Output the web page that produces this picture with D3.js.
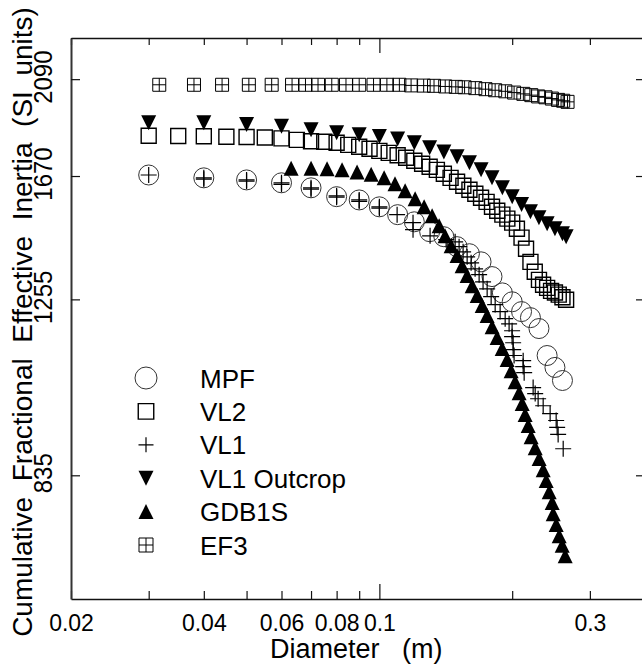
<!DOCTYPE html>
<html>
<head>
<meta charset="utf-8">
<script src="https://cdnjs.cloudflare.com/ajax/libs/d3/7.8.5/d3.min.js"></script>
<style>
  body { margin: 0; background: #fff; }
  svg { display: block; font-family: "Liberation Sans", Arial, Helvetica, sans-serif; }
</style>
</head>
<body>
<div id="chart"></div>
<script>
// diameter (m) vs cumulative fractional effective inertia (SI units)
var mpfDiam = [0.03,0.04,0.05,0.06,0.07,0.08,0.09,0.1,0.11,0.12,0.13,0.14,0.15,0.16,0.17,0.18,0.19,0.2,0.21,0.22,0.23,0.24,0.25,0.26];
var mpfVal  = [1674,1663,1655,1644,1625,1592,1580,1555,1527,1502,1468,1451,1418,1395,1369,1323,1274,1248,1220,1203,1173,1102,1072,1040];

var vl2Diam = [0.03,0.035,0.04,0.045,0.05,0.055,0.06,0.065,0.07,0.075,0.08,0.085,0.09,0.095,0.1,0.105,0.11,0.115,0.12,0.125,0.13,0.135,0.14,0.145,0.15,0.155,0.16,0.165,0.17,0.175,0.18,0.185,0.19,0.195,0.2,0.205,0.21,0.215,0.22,0.225,0.23,0.235,0.24,0.245,0.25,0.255,0.26,0.265];
var vl2Val  = [1833,1832,1831,1829,1828,1826,1822,1816,1810,1808,1804,1795,1787,1779,1770,1762,1752,1742,1730,1718,1706,1694,1679,1663,1648,1633,1618,1603,1588,1573,1555,1541,1527,1513,1499,1478,1448,1411,1369,1338,1313,1298,1289,1280,1275,1269,1261,1254];

var vl1Diam = [0.03,0.04,0.04,0.05,0.05,0.06,0.06,0.07,0.07,0.08,0.08,0.09,0.09,0.1,0.1,0.1097,0.1192,0.1192,0.1303,0.1417,0.1485,0.1516,0.1548,0.1581,0.1614,0.1648,0.1683,0.1718,0.1755,0.1792,0.183,0.1878,0.1928,0.1968,0.1999,0.1999,0.201,0.201,0.202,0.2118,0.2118,0.2129,0.2231,0.2255,0.229,0.2351,0.2438,0.2516,0.2529,0.2542,0.261];
var vl1Val  = [1674,1663,1658,1655,1650,1644,1638,1625,1620,1595,1590,1580,1575,1555,1550,1527,1499,1475,1454,1441,1434,1418,1401,1385,1366,1347,1329,1307,1286,1263,1240,1220,1200,1186,1167,1151,1135,1117,1102,1089,1074,1059,1023,1009,997,981,963,948,933,918,888];

var outDiam = [0.03,0.04,0.05,0.06,0.07,0.08,0.09,0.1,0.11,0.12,0.13,0.14,0.15,0.16,0.17,0.18,0.19,0.2,0.21,0.22,0.23,0.24,0.25,0.26,0.265];
var outVal  = [1889,1889,1882,1874,1859,1846,1837,1830,1820,1804,1783,1766,1746,1722,1694,1663,1625,1592,1563,1537,1516,1495,1478,1461,1451];

var gdbDiam = [0.0631,0.07,0.0761,0.0823,0.089,0.0958,0.1025,0.1085,0.1144,0.1205,0.1263,0.1317,0.1366,0.1409,0.1454,0.15,0.154,0.1581,0.1623,0.1666,0.171,0.1755,0.1801,0.1849,0.1898,0.1948,0.1989,0.2031,0.2074,0.2107,0.214,0.2174,0.2208,0.2255,0.2302,0.2351,0.2388,0.2426,0.2464,0.2477,0.2516,0.2556,0.2596,0.2637];
var gdbVal  = [1700,1700,1698,1694,1686,1677,1663,1640,1614,1584,1555,1523,1488,1454,1421,1389,1357,1326,1295,1266,1237,1209,1178,1149,1120,1092,1064,1037,1011,986,961,937,913,890,868,846,825,804,784,764,745,726,710,693];

var ef3Diam = [0.0317,0.038,0.044,0.0506,0.057,0.0634,0.068,0.0726,0.078,0.084,0.09,0.097,0.104,0.111,0.118,0.126,0.133,0.141,0.149,0.156,0.165,0.174,0.183,0.193,0.202,0.212,0.221,0.229,0.238,0.246,0.254,0.261,0.267];
var ef3Val  = [2063,2063,2063,2063,2063,2063,2063,2063,2063,2063,2063,2063,2063,2063,2060,2059,2058,2055,2053,2051,2047,2042,2037,2032,2026,2020,2014,2008,2004,1998,1992,1988,1983];

var xTicks  = [0.02,0.03,0.04,0.05,0.06,0.07,0.08,0.09,0.1,0.2,0.3];
var xLabels = [0.02,0.04,0.06,0.08,0.1,0.3];
var yTicks  = [835,1255,1670,2090];
var seriesNames = ["MPF","VL2","VL1","VL1 Outcrop","GDB1S","EF3"];

var width = 642, height = 667;
var x = d3.scaleLog().domain([0.02, 0.4]).range([71, 645]);
var y = d3.scaleLog().domain([627, 2299]).range([599, 38]);

var svg = d3.select("#chart").append("svg")
  .attr("width", width)
  .attr("height", height);

// marker shapes (size = side squared)
var boxPlus = { draw: function(ctx, size) {
  var h = Math.sqrt(size) / 2;
  ctx.moveTo(-h, -h); ctx.lineTo(h, -h); ctx.lineTo(h, h); ctx.lineTo(-h, h); ctx.closePath();
  ctx.moveTo(-h, 0); ctx.lineTo(h, 0);
  ctx.moveTo(0, -h); ctx.lineTo(0, h);
}};
var plus = { draw: function(ctx, size) {
  var h = Math.sqrt(size) / 2;
  ctx.moveTo(-h, 0); ctx.lineTo(h, 0);
  ctx.moveTo(0, -h); ctx.lineTo(0, h);
}};
var triDown = { draw: function(ctx, size) {
  var h = Math.sqrt(size) / 2;
  ctx.moveTo(-h, -h); ctx.lineTo(h, -h); ctx.lineTo(0, h); ctx.closePath();
}};
var triUp = { draw: function(ctx, size) {
  var h = Math.sqrt(size) / 2;
  ctx.moveTo(0, -h); ctx.lineTo(h, h); ctx.lineTo(-h, h); ctx.closePath();
}};

var series = [
  {diam: mpfDiam, val: mpfVal, type: d3.symbolCircle, size: Math.PI * 100, legSize: Math.PI * 121, fill: "none", stroke: "#333", sw: 1},
  {diam: vl2Diam, val: vl2Val, type: d3.symbolSquare, size: 225, legSize: 240, fill: "none", stroke: "#000", sw: 1.4},
  {diam: vl1Diam, val: vl1Val, type: plus, size: 256, legSize: 225, fill: "none", stroke: "#000", sw: 1.2},
  {diam: outDiam, val: outVal, type: triDown, size: 225, legSize: 225, fill: "#000", stroke: "none", sw: 0},
  {diam: gdbDiam, val: gdbVal, type: triUp, size: 225, legSize: 225, fill: "#000", stroke: "none", sw: 0},
  {diam: ef3Diam, val: ef3Val, type: boxPlus, size: 169, legSize: 196, fill: "none", stroke: "#000", sw: 1}
];

// axes
var axisFont = '"Liberation Sans", Arial, Helvetica, sans-serif';

var gB = svg.append("g")
  .attr("transform", "translate(0,599)")
  .call(d3.axisBottom(x).tickValues(xTicks).tickSizeInner(-8).tickSizeOuter(0).tickPadding(16)
    .tickFormat(function(d) { return xLabels.indexOf(d) >= 0 ? String(d) : ""; }));
gB.selectAll(".tick line").filter(function(d) { return d === 0.1; }).attr("y2", -15);

var gT = svg.append("g")
  .attr("transform", "translate(0,38)")
  .call(d3.axisTop(x).tickValues(xTicks).tickSizeInner(-7).tickSizeOuter(0).tickFormat(""));
gT.selectAll(".tick line").filter(function(d) { return d === 0.1; }).attr("y2", 15);

var gL = svg.append("g")
  .attr("transform", "translate(71,0)")
  .call(d3.axisLeft(y).tickValues(yTicks).tickSizeInner(-9).tickSizeOuter(0).tickFormat(function(d) { return String(d); }));
gL.selectAll(".tick text")
  .attr("x", null).attr("dy", null)
  .attr("text-anchor", "middle")
  .attr("transform", "translate(-19,-2.5) scale(1.1,1) rotate(-90)");

var gR = svg.append("g")
  .attr("transform", "translate(645,0)")
  .call(d3.axisRight(y).tickValues(yTicks).tickSizeInner(-9).tickSizeOuter(0).tickFormat(""));

[gB, gT, gL, gR].forEach(function(g) {
  g.attr("font-family", axisFont).attr("font-size", 23);
  g.selectAll(".domain").attr("stroke", "#111").attr("stroke-width", 1.5);
  g.selectAll(".tick line").attr("stroke", "#111").attr("stroke-width", 1.2);
  g.selectAll(".tick text").attr("fill", "#000");
});
gL.attr("font-size", 24);
gL.select(".domain").attr("stroke", "#333").attr("stroke-width", 2);

// axis titles
svg.append("text")
  .attr("xml:space", "preserve")
  .style("white-space", "pre")
  .attr("transform", "translate(31.5,322) rotate(-90)")
  .attr("text-anchor", "middle")
  .attr("font-size", 28)
  .text("Cumulative  Fractional  Effective  Inertia  (SI  units)");

svg.append("text")
  .attr("xml:space", "preserve")
  .style("white-space", "pre")
  .attr("x", 270)
  .attr("y", 658)
  .attr("font-size", 27)
  .text("Diameter   (m)");

// data markers
series.forEach(function(s) {
  var pts = s.diam.map(function(d, i) { return {d: d, v: s.val[i]}; });
  svg.append("g").selectAll("path")
    .data(pts)
    .enter().append("path")
    .attr("d", d3.symbol().type(s.type).size(s.size))
    .attr("transform", function(p) { return "translate(" + x(p.d) + "," + y(p.v) + ")"; })
    .attr("fill", s.fill)
    .attr("stroke", s.stroke)
    .attr("stroke-width", s.sw);
});

// legend
var legY = d3.scaleLinear().domain([0, seriesNames.length - 1]).range([378, 545]);
var leg = svg.append("g").selectAll("g")
  .data(seriesNames)
  .enter().append("g")
  .attr("transform", function(d, i) { return "translate(146," + legY(i) + ")"; });

leg.append("path")
  .attr("d", function(d, i) { return d3.symbol().type(series[i].type).size(series[i].legSize)(); })
  .attr("fill", function(d, i) { return series[i].fill; })
  .attr("stroke", function(d, i) { return series[i].stroke; })
  .attr("stroke-width", function(d, i) { return series[i].sw; });

leg.append("text")
  .attr("x", 54)
  .attr("y", 9.5)
  .attr("font-size", 26)
  .text(function(d) { return d; });
</script>
</body>
</html>
